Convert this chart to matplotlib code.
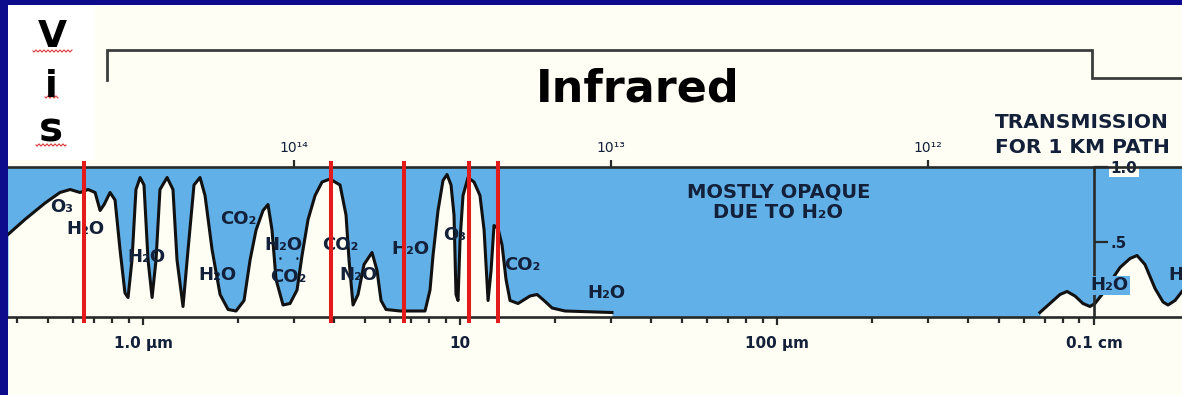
import numpy as np
import matplotlib
matplotlib.use("Agg")
import matplotlib.pyplot as plt
from matplotlib.lines import Line2D
from matplotlib.patches import Rectangle
from matplotlib.ticker import LogLocator, NullFormatter, NullLocator, FixedLocator

# ---------------- data ----------------
# near-IR / thermal-IR transmission curve (wavelength in micrometres, transmission 0..1)
wavelength_um_a = [0.375, 0.424, 0.491, 0.547, 0.589, 0.633, 0.671, 0.706, 0.732, 0.754,
                   0.787, 0.816, 0.846, 0.877, 0.897, 0.923, 0.950, 0.979, 1.007, 1.037,
                   1.068, 1.099, 1.131, 1.191, 1.243, 1.280, 1.337, 1.387, 1.448, 1.513,
                   1.569, 1.651, 1.750, 1.855, 1.965, 2.083, 2.176, 2.273, 2.391, 2.479,
                   2.552, 2.628, 2.765, 2.909, 3.061, 3.174, 3.316, 3.489, 3.671, 3.890,
                   4.183, 4.369, 4.465, 4.597, 4.767, 4.979, 5.277, 5.473, 5.634, 5.843,
                   6.470, 7.755, 8.042, 8.219, 8.523, 8.838, 9.099, 9.367, 9.573, 9.713,
                   9.856, 10.00, 10.22, 10.60, 11.07, 11.56, 11.91, 12.26, 12.53, 12.80,
                   13.18, 13.57, 13.97, 14.38, 15.24, 16.63, 17.50, 18.41, 19.52, 21.44,
                   30.16]
transmission_a = [0.55, 0.65, 0.76, 0.83, 0.85, 0.83, 0.85, 0.83, 0.71, 0.75,
                  0.83, 0.78, 0.45, 0.16, 0.13, 0.38, 0.85, 0.93, 0.88, 0.38,
                  0.13, 0.38, 0.85, 0.93, 0.85, 0.38, 0.07, 0.45, 0.88, 0.93,
                  0.81, 0.45, 0.15, 0.05, 0.04, 0.11, 0.38, 0.58, 0.71, 0.75,
                  0.58, 0.25, 0.08, 0.09, 0.18, 0.41, 0.65, 0.81, 0.90, 0.92,
                  0.88, 0.68, 0.38, 0.08, 0.15, 0.35, 0.43, 0.31, 0.11, 0.05,
                  0.04, 0.04, 0.18, 0.41, 0.71, 0.91, 0.95, 0.88, 0.68, 0.15,
                  0.11, 0.51, 0.81, 0.93, 0.90, 0.81, 0.58, 0.11, 0.31, 0.61,
                  0.59, 0.48, 0.25, 0.11, 0.09, 0.14, 0.15, 0.11, 0.06, 0.04,
                  0.03]
# millimetre-wave transmission curve
wavelength_um_b = [675, 726, 781, 822, 871, 923, 971, 1007, 1060, 1123,
                   1208, 1299, 1367, 1448, 1558, 1651, 1712, 1801, 1895]
transmission_b = [0.03, 0.09, 0.15, 0.17, 0.14, 0.09, 0.07, 0.09, 0.15, 0.23,
                  0.33, 0.39, 0.41, 0.35, 0.19, 0.10, 0.08, 0.11, 0.17]

# red marker lines (wavelength, micrometres)
red_lines_um = [0.651, 3.92, 6.66, 10.67, 13.18]

# bottom axis (wavelength) ticks
wl_ticks_um = [1, 10, 100, 1000]
wl_tick_labels = ["1.0 \u00b5m", "10", "100 \u00b5m", "0.1 cm"]
# top axis (frequency) ticks
freq_ticks_hz = [1e14, 1e13, 1e12]
freq_tick_labels = ["10\u00b9\u2074", "10\u00b9\u00b3", "10\u00b9\u00b2"]
# right transmission axis
trans_ticks = [0.5, 1.0]
trans_tick_labels = [".5", "1.0"]

# absorber labels: (text, wavelength um, transmission)
absorber_labels = [
    ("O\u2083", 0.555, 0.73), ("H\u2082O", 0.656, 0.59), ("H\u2082O", 1.022, 0.40),
    ("H\u2082O", 1.712, 0.28), ("CO\u2082", 1.994, 0.65), ("H\u2082O", 2.765, 0.48),
    ("CO\u2082", 2.867, 0.27), ("CO\u2082", 4.18, 0.48), ("N\u2082O", 4.77, 0.28),
    ("H\u2082O", 6.955, 0.45), ("O\u2083", 9.64, 0.55), ("CO\u2082", 15.69, 0.35),
    ("H\u2082O", 28.9, 0.16),
]

C_UM_HZ = 2.998e14  # speed of light in um*Hz

# ---------------- style ----------------
CREAM = "#fffef4"
BLUE = "#62b0e8"
NAVY = "#0c0c8c"
RED = "#e41b1b"
INK = "#13203a"
DARK = "#262a28"

W, H = 1182, 395
fig = plt.figure(figsize=(W / 100, H / 100), dpi=100)
fig.patch.set_facecolor(CREAM)


def fx(px):
    return px / W


def fy(py):
    return 1 - py / H


# white box behind "Vis"
fig.add_artist(Rectangle((fx(8), fy(160)), fx(95) - fx(8), (160 - 5) / H,
                         transform=fig.transFigure, facecolor="white",
                         edgecolor="none", zorder=0))

ax = fig.add_axes([fx(8), fy(317), fx(1182) - fx(8), (317 - 167) / H])
ax.set_facecolor(BLUE)
ax.set_xscale("log")
ax.set_xlim(0.375, 1895)
ax.set_ylim(0, 1)

ax.fill_between(wavelength_um_a, 0, transmission_a, color=CREAM, lw=0, zorder=1)
ax.fill_between(wavelength_um_b, 0, transmission_b, color=CREAM, lw=0, zorder=1)
ax.plot(wavelength_um_a, transmission_a, color="#111111", lw=2.2,
        solid_joinstyle="round", zorder=2)
ax.plot(wavelength_um_b, transmission_b, color="#111111", lw=2.2,
        solid_joinstyle="round", zorder=2)

# spines
ax.spines["left"].set_visible(False)
for s in ("top", "bottom", "right"):
    ax.spines[s].set_color(DARK)
    ax.spines[s].set_linewidth(1.9)
ax.spines["right"].set_position(("data", 1000))

# bottom wavelength axis
ax.xaxis.set_major_locator(FixedLocator(wl_ticks_um))
ax.set_xticklabels(wl_tick_labels)
ax.xaxis.set_minor_locator(LogLocator(base=10, subs=np.arange(2, 10)))
ax.xaxis.set_minor_formatter(NullFormatter())
ax.tick_params(axis="x", which="major", direction="out", length=6, width=1.6,
               color=DARK, labelsize=11, labelcolor=INK, pad=8)
ax.tick_params(axis="x", which="minor", direction="out", length=4.5, width=1.6,
               color=DARK)
for t in ax.get_xticklabels():
    t.set_fontweight("bold")

# right transmission axis
ax.yaxis.tick_right()
ax.set_yticks(trans_ticks)
ax.set_yticklabels(trans_tick_labels)
ax.tick_params(axis="y", direction="out", length=10, width=1.6, color=DARK,
               labelsize=11, labelcolor=INK, pad=2)
for t in ax.get_yticklabels():
    t.set_fontweight("bold")
    if t.get_text() == "1.0":
        t.set_bbox(dict(facecolor=CREAM, edgecolor="none", pad=1))

# top frequency axis
top = ax.twiny()
top.set_xscale("log")
top.set_xlim(ax.get_xlim())
top.xaxis.set_major_locator(FixedLocator([C_UM_HZ / f for f in freq_ticks_hz]))
top.set_xticklabels(freq_tick_labels)
top.xaxis.set_minor_locator(NullLocator())
top.tick_params(axis="x", direction="out", length=5, width=1.6, color=DARK,
                labelsize=10, labelcolor=INK, pad=4)
for s in top.spines.values():
    s.set_visible(False)

# red marker lines
for w in red_lines_um:
    ax.axvline(w, ymin=-0.025, ymax=1.025, color=RED, lw=2.9, clip_on=False, zorder=6)

# absorber labels
lab_kw = dict(ha="center", va="center", fontsize=13, fontweight="bold", color=INK, zorder=4)
for txt, wl, tr in absorber_labels:
    ax.text(wl, tr, txt, **lab_kw)
for wl in (2.70, 3.07, 4.47):
    ax.text(wl, 0.38, "\u2022", ha="center", va="center", fontsize=6, color=INK, zorder=4)
ax.text(1122, 0.21, "H\u2082O", ha="center", va="center", fontsize=13,
        fontweight="bold", color=INK, zorder=4,
        bbox=dict(facecolor=BLUE, edgecolor="none", pad=0.5))
# partly visible label at the right edge (only its "H" shows in the reference)
ax.text(1720, 0.28, "H", ha="left", va="center", fontsize=13,
        fontweight="bold", color=INK, zorder=4)
ax.text(101, 0.83, "MOSTLY OPAQUE", ha="center", va="center", fontsize=14,
        fontweight="bold", color=INK, zorder=4)
ax.text(101, 0.70, "DUE TO H\u2082O", ha="center", va="center", fontsize=14,
        fontweight="bold", color=INK, zorder=4)

# header texts
fig.text(fx(995), fy(128), "TRANSMISSION", ha="left", va="baseline", fontsize=14.5,
         fontweight="bold", color=INK)
fig.text(fx(995), fy(153), "FOR 1 KM PATH", ha="left", va="baseline", fontsize=14.5,
         fontweight="bold", color=INK)
fig.text(fx(638), fy(102), "Infrared", ha="center", va="baseline", fontsize=32,
         fontweight="bold", color="black")
fig.text(fx(52), fy(47), "V", ha="center", va="baseline", fontsize=27,
         fontweight="bold", color="black")
fig.text(fx(51), fy(97), "i", ha="center", va="baseline", fontsize=27,
         fontweight="bold", color="black")
fig.text(fx(51), fy(142), "s", ha="center", va="baseline", fontsize=29,
         fontweight="bold", color="black")

# spell-check squiggles under V, i, s
for x0, x1, yy in ((33, 72, 51), (45, 58, 97), (36, 66, 145)):
    xs = np.linspace(x0, x1, 60)
    ys = yy + 1.0 * np.sin((xs - x0) / 4.0 * 2 * np.pi)
    fig.add_artist(Line2D(fx(xs), fy(ys), transform=fig.transFigure,
                          color="#d83a3a", lw=0.8))

# bracket above the infrared region
bx = np.array([107, 107, 1092, 1092, 1182])
by = np.array([80, 50, 50, 78, 78])
fig.add_artist(Line2D(fx(bx), fy(by), transform=fig.transFigure, color="#3a3d3a",
                      lw=2.0, solid_joinstyle="miter"))

# navy frame
fig.add_artist(Rectangle((0, 0), fx(8), 1, transform=fig.transFigure,
                         facecolor=NAVY, edgecolor="none", zorder=10))
fig.add_artist(Rectangle((0, fy(5)), 1, 5 / H, transform=fig.transFigure,
                         facecolor=NAVY, edgecolor="none", zorder=10))

fig.savefig("out.png", dpi=100, facecolor=fig.get_facecolor())
